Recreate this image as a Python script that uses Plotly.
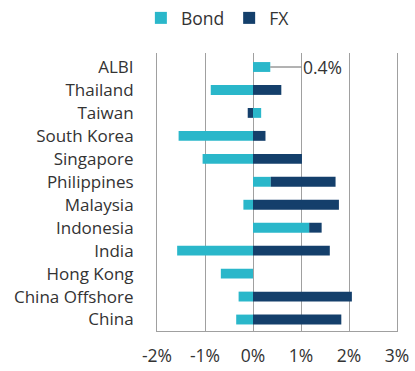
import plotly.graph_objects as go

categories = ["ALBI", "Thailand", "Taiwan", "South Korea", "Singapore", "Philippines",
              "Malaysia", "Indonesia", "India", "Hong Kong", "China Offshore", "China"]
bond = [0.36, -0.88, 0.17, -1.55, -1.05, 0.37, -0.20, 1.17, -1.58, -0.67, -0.30, -0.35]
fx = [0.0, 0.59, -0.11, 0.26, 1.02, 1.35, 1.79, 0.26, 1.60, 0.0, 2.06, 1.84]
tick_vals = [-2, -1, 0, 1, 2, 3]
tick_text = ["-2%", "-1%", "0%", "1%", "2%", "3%"]

BOND_COLOR = "#2AB7CA"
FX_COLOR = "#143F6B"
GRID = "#A0A0A0"
FONT = "Open Sans"
FS = 17

fig = go.Figure()
fig.add_trace(go.Bar(y=categories, x=bond, name="Bond", orientation="h",
                     marker=dict(color=BOND_COLOR, line=dict(width=0))))
fig.add_trace(go.Bar(y=categories, x=fx, name="FX", orientation="h",
                     marker=dict(color=FX_COLOR, line=dict(width=0))))

fig.add_annotation(x=bond[0], y=categories[0], text=f"{bond[0]:.1f}%",
                   showarrow=True, arrowhead=0, arrowwidth=1, arrowcolor="#666666",
                   ax=52, ay=0, font=dict(family=FONT, size=17.5, color="#333333"))

fig.update_layout(
    width=415, height=371,
    margin=dict(l=157, r=18, t=53, b=40, autoexpand=False),
    barmode="relative", bargap=0.57,
    paper_bgcolor="white", plot_bgcolor="white",
    font=dict(family=FONT, size=FS, color="#333333"),
    showlegend=True,
    legend=dict(orientation="h", xref="container", yref="container",
                x=0.525, xanchor="center", y=1 - 18 / 371, yanchor="middle",
                font=dict(family=FONT, size=17.5, color="#333333"),
                itemwidth=30, traceorder="normal"),
    xaxis=dict(range=[-2, 3], tickvals=tick_vals, ticktext=tick_text,
               showgrid=True, gridcolor=GRID, gridwidth=1,
               zeroline=True, zerolinecolor=GRID, zerolinewidth=1,
               showline=True, linecolor=GRID, linewidth=1, mirror=False,
               automargin=False, ticks="", ticklabelstandoff=9, fixedrange=True,
               tickfont=dict(size=17.5)),
    yaxis=dict(categoryorder="array", categoryarray=categories, autorange="reversed",
               showgrid=False, zeroline=False, showline=True, mirror=True,
               linecolor=GRID, linewidth=1, automargin=False, ticks="",
               ticklabelstandoff=19, fixedrange=True),
)

fig.write_html("out.html", config={"displayModeBar": False},
               post_script="document.body.style.margin='0';document.body.style.padding='0';")
